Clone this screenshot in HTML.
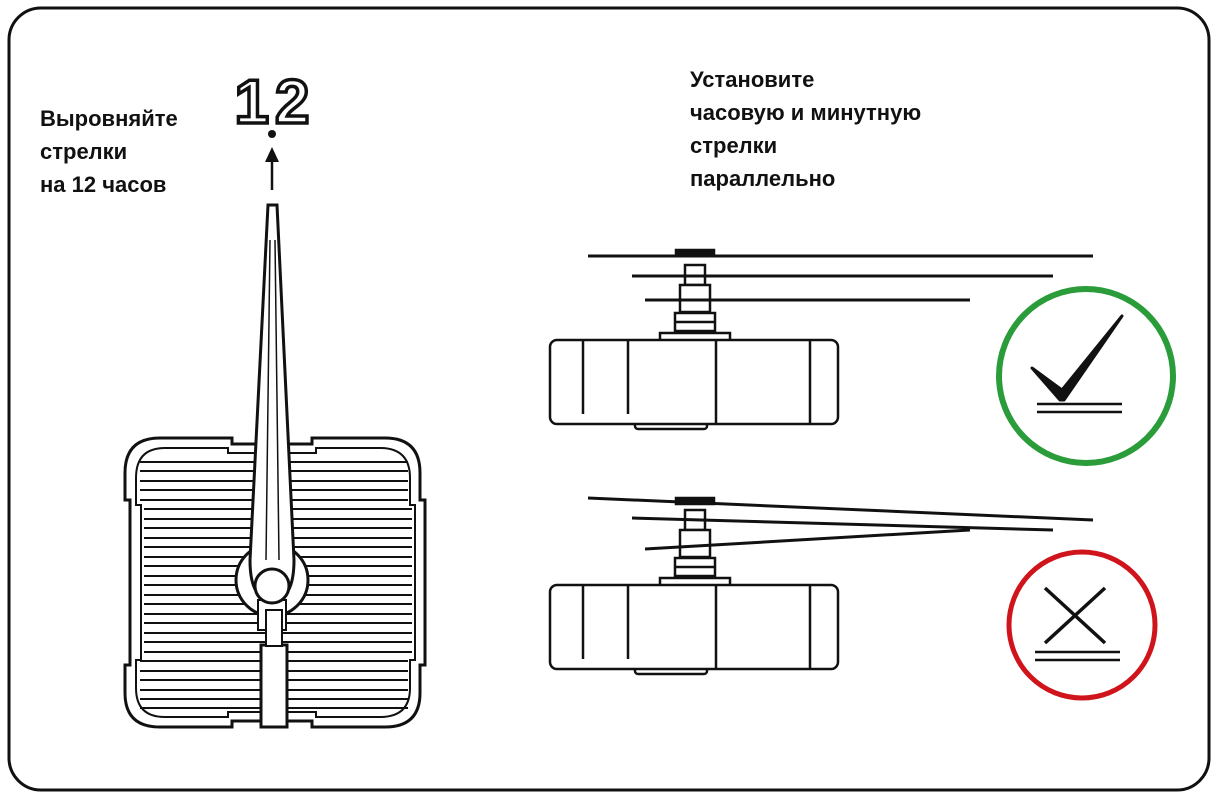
<!DOCTYPE html>
<html><head><meta charset="utf-8"><style>
html,body{margin:0;padding:0;background:#fff;}
svg{display:block;}
text{font-family:"Liberation Sans",sans-serif;font-weight:bold;}
</style></head><body>
<svg width="1217" height="810" viewBox="0 0 1217 810" xmlns="http://www.w3.org/2000/svg">
<rect x="9" y="8" width="1200" height="782" rx="32" fill="none" stroke="#111" stroke-width="3"/>
<g font-size="22" fill="#111">
<text x="40" y="126">Выровняйте</text>
<text x="40" y="159">стрелки</text>
<text x="40" y="192">на 12 часов</text>
<text x="690" y="87">Установите</text>
<text x="690" y="120">часовую и минутную</text>
<text x="690" y="153">стрелки</text>
<text x="690" y="186">параллельно</text>
</g>
<text x="275" y="123" font-size="62" text-anchor="middle" fill="#fff" stroke="#111" stroke-width="3.5" letter-spacing="6">12</text>
<circle cx="272" cy="134" r="4" fill="#111"/>
<polygon points="272,147 265,162 279,162" fill="#111"/>
<line x1="272" y1="160" x2="272" y2="190" stroke="#111" stroke-width="2.5"/>
<!-- movement -->
<g fill="none" stroke="#111">
<path d="M160,438 H232 V444 H312 V438 H385 Q420,438 420,473 V500 H425 V665 H420 V693 Q420,727 385,727 H312 V721 H232 V727 H160 Q125,727 125,693 V665 H130 V500 H125 V473 Q125,438 160,438 Z" stroke-width="3"/>
<path d="M165,448 H228 V453 H316 V448 H380 Q410,448 410,478 V505 H415 V660 H410 V688 Q410,717 380,717 H316 V712 H228 V717 H165 Q136,717 136,688 V660 H141 V505 H136 V478 Q136,448 165,448 Z" stroke-width="2"/>
</g>
<g stroke="#111" stroke-width="2">
<line x1="140" y1="462" x2="408" y2="462"/><line x1="140" y1="471" x2="408" y2="471"/>
<line x1="140" y1="481" x2="408" y2="481"/><line x1="140" y1="490" x2="408" y2="490"/>
<line x1="140" y1="500" x2="408" y2="500"/><line x1="144" y1="509" x2="412" y2="509"/>
<line x1="144" y1="519" x2="412" y2="519"/><line x1="144" y1="528" x2="412" y2="528"/>
<line x1="144" y1="538" x2="412" y2="538"/><line x1="144" y1="547" x2="412" y2="547"/>
<line x1="144" y1="557" x2="412" y2="557"/><line x1="144" y1="566" x2="412" y2="566"/>
<line x1="144" y1="576" x2="412" y2="576"/><line x1="144" y1="585" x2="412" y2="585"/>
<line x1="144" y1="595" x2="412" y2="595"/><line x1="144" y1="604" x2="412" y2="604"/>
<line x1="144" y1="614" x2="412" y2="614"/><line x1="144" y1="623" x2="412" y2="623"/>
<line x1="144" y1="633" x2="412" y2="633"/><line x1="144" y1="642" x2="412" y2="642"/>
<line x1="144" y1="652" x2="412" y2="652"/><line x1="140" y1="661" x2="408" y2="661"/>
<line x1="140" y1="671" x2="408" y2="671"/><line x1="140" y1="680" x2="408" y2="680"/>
<line x1="140" y1="690" x2="408" y2="690"/><line x1="140" y1="699" x2="408" y2="699"/>
<line x1="140" y1="708" x2="408" y2="708"/>
</g>
<!-- hub and hands -->
<circle cx="272" cy="580" r="36" fill="#fff" stroke="#111" stroke-width="3"/>
<rect x="258" y="600" width="28" height="30" fill="#fff" stroke="#111" stroke-width="2"/>
<path d="M268,205 H277 L294,560 Q294,600 272,600 Q250,600 250,560 Z" fill="#fff" stroke="#111" stroke-width="3"/>
<path d="M270,240 L266,560 M275,240 L279,560" stroke="#111" stroke-width="1.5"/>
<circle cx="272" cy="586" r="17" fill="#fff" stroke="#111" stroke-width="3"/>
<rect x="261" y="645" width="26" height="82" fill="#fff" stroke="#111" stroke-width="3"/>
<rect x="266" y="610" width="16" height="36" fill="#fff" stroke="#111" stroke-width="2"/>
<!-- top side view -->
<g fill="#fff" stroke="#111" stroke-width="2.5">
<line x1="588" y1="256" x2="1093" y2="256" stroke-width="3"/>
<rect x="676" y="250" width="38" height="6" fill="#111"/>
<rect x="685" y="265" width="20" height="20"/>
<rect x="680" y="285" width="30" height="27"/>
<rect x="675" y="313" width="40" height="18"/>
<line x1="675" y1="322" x2="715" y2="322"/>
<rect x="660" y="333" width="70" height="8"/>
<line x1="632" y1="276" x2="1053" y2="276" stroke-width="3"/>
<line x1="645" y1="300" x2="970" y2="300" stroke-width="3"/>
<rect x="635" y="415" width="72" height="14" rx="3"/>
<rect x="550" y="340" width="288" height="84" rx="7"/>
<line x1="583" y1="340" x2="583" y2="414"/><line x1="628" y1="340" x2="628" y2="414"/>
<line x1="716" y1="340" x2="716" y2="424"/><line x1="810" y1="340" x2="810" y2="424"/>
</g>
<!-- bottom side view -->
<g fill="#fff" stroke="#111" stroke-width="2.5">
<rect x="676" y="498" width="38" height="6" fill="#111"/>
<rect x="685" y="510" width="20" height="20"/>
<rect x="680" y="530" width="30" height="27"/>
<rect x="675" y="558" width="40" height="18"/>
<line x1="675" y1="567" x2="715" y2="567"/>
<rect x="660" y="578" width="70" height="8"/>
<line x1="588" y1="498" x2="1093" y2="520" stroke-width="3"/>
<line x1="632" y1="518" x2="1053" y2="530" stroke-width="3"/>
<line x1="645" y1="549" x2="970" y2="530" stroke-width="3"/>
<rect x="635" y="660" width="72" height="14" rx="3"/>
<rect x="550" y="585" width="288" height="84" rx="7"/>
<line x1="583" y1="585" x2="583" y2="659"/><line x1="628" y1="585" x2="628" y2="659"/>
<line x1="716" y1="585" x2="716" y2="669"/><line x1="810" y1="585" x2="810" y2="669"/>
</g>
<!-- check circle -->
<circle cx="1086" cy="376" r="87" fill="none" stroke="#2a9c3a" stroke-width="6"/>
<path d="M1032,368 L1062,390 L1122,316 L1064,400 L1060,400 Z" fill="#111" stroke="#111" stroke-width="3" stroke-linejoin="round"/>
<line x1="1037" y1="404" x2="1122" y2="404" stroke="#111" stroke-width="2.5"/>
<line x1="1037" y1="412" x2="1122" y2="412" stroke="#111" stroke-width="2.5"/>
<!-- cross circle -->
<circle cx="1082" cy="625" r="73" fill="none" stroke="#d0141b" stroke-width="5"/>
<line x1="1045" y1="588" x2="1105" y2="643" stroke="#111" stroke-width="3.5"/>
<line x1="1105" y1="588" x2="1045" y2="643" stroke="#111" stroke-width="3.5"/>
<line x1="1035" y1="652" x2="1120" y2="652" stroke="#111" stroke-width="2.5"/>
<line x1="1035" y1="660" x2="1120" y2="660" stroke="#111" stroke-width="2.5"/>
</svg>
</body></html>
